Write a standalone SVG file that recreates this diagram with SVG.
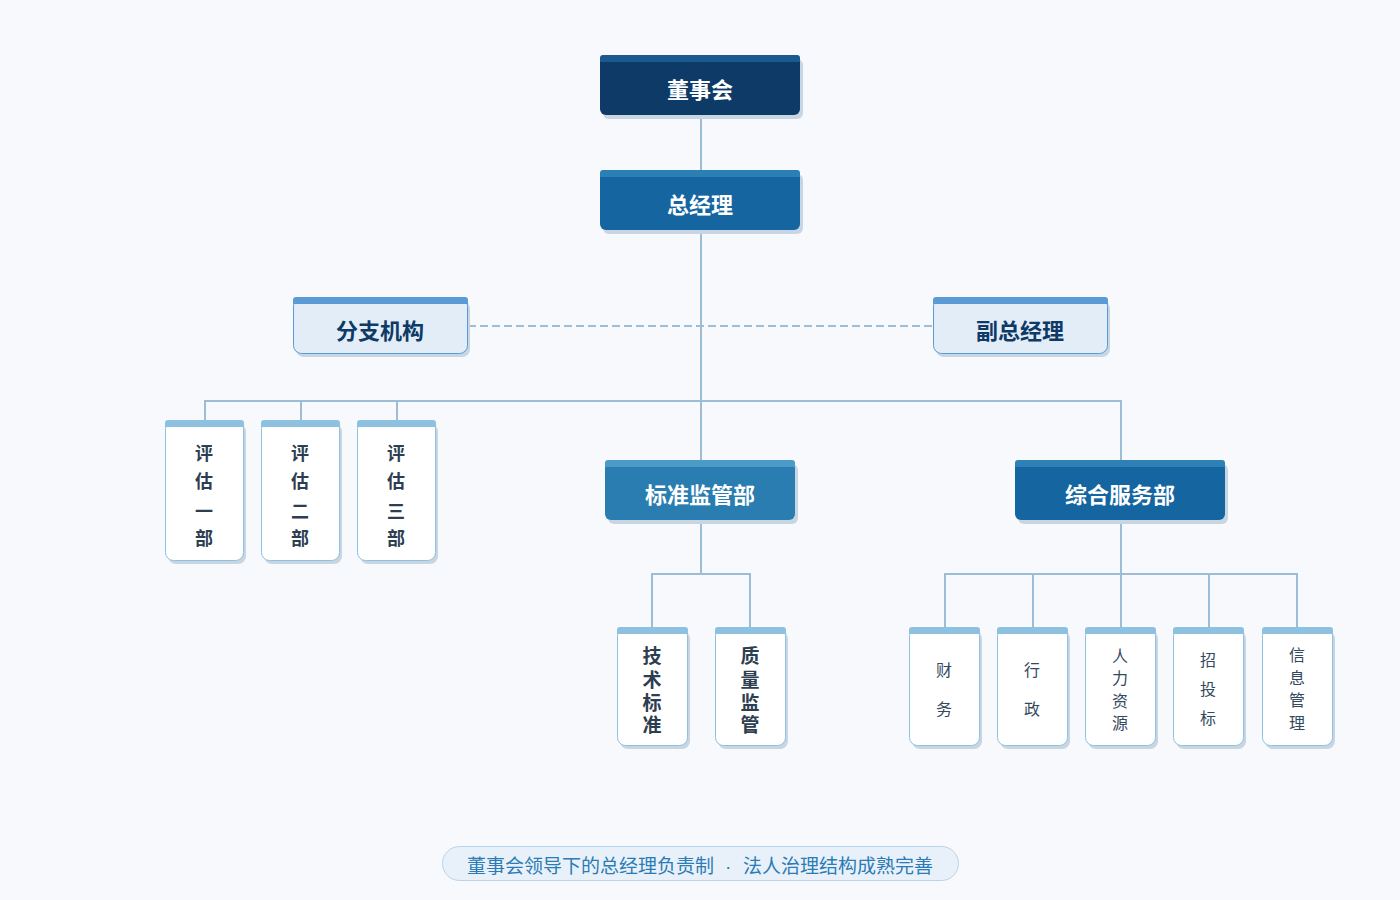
<svg xmlns="http://www.w3.org/2000/svg" width="1400" height="900" viewBox="0 0 1400 900">
<defs>
<style>
.bg{fill:#f7f9fc}
.sh{fill:#c8d5e2}
.ln{fill:none;stroke:#9dbdd6;stroke-width:2}
.dash{stroke-dasharray:8 4}
.t{font-family:"Liberation Sans","Noto Sans CJK SC",sans-serif;text-anchor:middle}
.big{font-size:22px;font-weight:bold;fill:#ffffff}
.lt{font-size:22px;font-weight:bold;fill:#0d3a66}
.sb{font-size:18px;font-weight:bold;fill:#2c3e50}
.sr{font-size:16px;fill:#34495e}
.wbody{fill:#ffffff;stroke:#8ec0e0;stroke-width:1}
.wstripe{fill:#8ec0e0}
.lbody{fill:#e3edf8;stroke:#5b9bd5;stroke-width:1}
.lstripe{fill:#5b9bd5}
.cap{font-family:"Liberation Sans","Noto Sans CJK SC",sans-serif;font-size:19px;fill:#2b7bb5}
</style>
</defs>
<rect class="bg" x="0" y="0" width="1400" height="900"/>

<g id="connectors">
<line class="ln" x1="701" y1="115" x2="701" y2="170"/>
<line class="ln" x1="701" y1="230" x2="701" y2="460"/>
<line class="ln dash" x1="468" y1="326" x2="933" y2="326"/>
<polyline class="ln" points="205,420 205,401 1121,401 1121,460"/>
<line class="ln" x1="301" y1="401" x2="301" y2="420"/>
<line class="ln" x1="397" y1="401" x2="397" y2="420"/>
<line class="ln" x1="701" y1="520" x2="701" y2="574"/>
<polyline class="ln" points="652,627 652,574 750,574 750,627"/>
<line class="ln" x1="1121" y1="520" x2="1121" y2="627"/>
<polyline class="ln" points="945,627 945,574 1297,574 1297,627"/>
<line class="ln" x1="1033" y1="574" x2="1033" y2="627"/>
<line class="ln" x1="1209" y1="574" x2="1209" y2="627"/>
</g>

<g id="n-board">
<rect class="sh" x="603" y="59" width="200" height="60" rx="6"/>
<rect x="600" y="55" width="200" height="60" rx="6" fill="#0d3a66"/>
<path d="M600,62 V58 Q600,55 603,55 H797 Q800,55 800,58 V62 Z" fill="#1a5a8e"/>
<text class="t big" x="700" y="98">董事会</text>
</g>

<g id="n-gm">
<rect class="sh" x="603" y="174" width="200" height="60" rx="6"/>
<rect x="600" y="170" width="200" height="60" rx="6" fill="#1565a0"/>
<path d="M600,177 V173 Q600,170 603,170 H797 Q800,170 800,173 V177 Z" fill="#2a7fb4"/>
<text class="t big" x="700" y="213">总经理</text>
</g>

<g id="n-branch">
<rect class="sh" x="296" y="301" width="174" height="56" rx="8"/>
<rect class="lbody" x="293.5" y="297.5" width="174" height="56" rx="8"/>
<path d="M293,304 V300 Q293,297 296,297 H465 Q468,297 468,300 V304 Z" class="lstripe"/>
<text class="t lt" x="380" y="339">分支机构</text>
</g>

<g id="n-vgm">
<rect class="sh" x="936" y="301" width="174" height="56" rx="8"/>
<rect class="lbody" x="933.5" y="297.5" width="174" height="56" rx="8"/>
<path d="M933,304 V300 Q933,297 936,297 H1105 Q1108,297 1108,300 V304 Z" class="lstripe"/>
<text class="t lt" x="1020" y="339">副总经理</text>
</g>

<g id="n-eval1">
<rect class="sh" x="168" y="424" width="78" height="140" rx="8"/>
<rect class="wbody" x="165.5" y="420.5" width="78" height="140" rx="8"/>
<path d="M165,427 V423 Q165,420 168,420 H241 Q244,420 244,423 V427 Z" class="wstripe"/>
<text class="t sb"><tspan x="204" y="460">评</tspan><tspan x="204" y="488">估</tspan><tspan x="204" y="518">一</tspan><tspan x="204" y="545">部</tspan></text>
</g>

<g id="n-eval2">
<rect class="sh" x="264" y="424" width="78" height="140" rx="8"/>
<rect class="wbody" x="261.5" y="420.5" width="78" height="140" rx="8"/>
<path d="M261,427 V423 Q261,420 264,420 H337 Q340,420 340,423 V427 Z" class="wstripe"/>
<text class="t sb"><tspan x="300" y="460">评</tspan><tspan x="300" y="488">估</tspan><tspan x="300" y="518">二</tspan><tspan x="300" y="545">部</tspan></text>
</g>

<g id="n-eval3">
<rect class="sh" x="360" y="424" width="78" height="140" rx="8"/>
<rect class="wbody" x="357.5" y="420.5" width="78" height="140" rx="8"/>
<path d="M357,427 V423 Q357,420 360,420 H433 Q436,420 436,423 V427 Z" class="wstripe"/>
<text class="t sb"><tspan x="396" y="460">评</tspan><tspan x="396" y="488">估</tspan><tspan x="396" y="518">三</tspan><tspan x="396" y="545">部</tspan></text>
</g>

<g id="n-std">
<rect class="sh" x="608" y="464" width="190" height="60" rx="6"/>
<rect x="605" y="460" width="190" height="60" rx="6" fill="#2a7db0"/>
<path d="M605,467 V463 Q605,460 608,460 H792 Q795,460 795,463 V467 Z" fill="#4a9cc6"/>
<text class="t big" x="700" y="503">标准监管部</text>
</g>

<g id="n-svc">
<rect class="sh" x="1018" y="464" width="210" height="60" rx="6"/>
<rect x="1015" y="460" width="210" height="60" rx="6" fill="#1565a0"/>
<path d="M1015,467 V463 Q1015,460 1018,460 H1222 Q1225,460 1225,463 V467 Z" fill="#2e80b5"/>
<text class="t big" x="1120" y="503">综合服务部</text>
</g>

<g id="n-tech">
<rect class="sh" x="620" y="631" width="70" height="118" rx="8"/>
<rect class="wbody" x="617.5" y="627.5" width="70" height="118" rx="8"/>
<path d="M617,634 V630 Q617,627 620,627 H685 Q688,627 688,630 V634 Z" class="wstripe"/>
<text class="t sb" style="font-size:19px"><tspan x="652" y="663">技</tspan><tspan x="652" y="687">术</tspan><tspan x="652" y="710">标</tspan><tspan x="652" y="732">准</tspan></text>
</g>

<g id="n-qual">
<rect class="sh" x="718" y="631" width="70" height="118" rx="8"/>
<rect class="wbody" x="715.5" y="627.5" width="70" height="118" rx="8"/>
<path d="M715,634 V630 Q715,627 718,627 H783 Q786,627 786,630 V634 Z" class="wstripe"/>
<text class="t sb" style="font-size:19px"><tspan x="750" y="663">质</tspan><tspan x="750" y="687">量</tspan><tspan x="750" y="710">监</tspan><tspan x="750" y="732">管</tspan></text>
</g>

<g id="n-fin">
<rect class="sh" x="912" y="631" width="70" height="118" rx="8"/>
<rect class="wbody" x="909.5" y="627.5" width="70" height="118" rx="8"/>
<path d="M909,634 V630 Q909,627 912,627 H977 Q980,627 980,630 V634 Z" class="wstripe"/>
<text class="t sr"><tspan x="944" y="676">财</tspan><tspan x="944" y="715">务</tspan></text>
</g>

<g id="n-admin">
<rect class="sh" x="1000" y="631" width="70" height="118" rx="8"/>
<rect class="wbody" x="997.5" y="627.5" width="70" height="118" rx="8"/>
<path d="M997,634 V630 Q997,627 1000,627 H1065 Q1068,627 1068,630 V634 Z" class="wstripe"/>
<text class="t sr"><tspan x="1032" y="676">行</tspan><tspan x="1032" y="715">政</tspan></text>
</g>

<g id="n-hr">
<rect class="sh" x="1088" y="631" width="70" height="118" rx="8"/>
<rect class="wbody" x="1085.5" y="627.5" width="70" height="118" rx="8"/>
<path d="M1085,634 V630 Q1085,627 1088,627 H1153 Q1156,627 1156,630 V634 Z" class="wstripe"/>
<text class="t sr"><tspan x="1120" y="662">人</tspan><tspan x="1120" y="684">力</tspan><tspan x="1120" y="707">资</tspan><tspan x="1120" y="729">源</tspan></text>
</g>

<g id="n-bid">
<rect class="sh" x="1176" y="631" width="70" height="118" rx="8"/>
<rect class="wbody" x="1173.5" y="627.5" width="70" height="118" rx="8"/>
<path d="M1173,634 V630 Q1173,627 1176,627 H1241 Q1244,627 1244,630 V634 Z" class="wstripe"/>
<text class="t sr"><tspan x="1208" y="666">招</tspan><tspan x="1208" y="695">投</tspan><tspan x="1208" y="724">标</tspan></text>
</g>

<g id="n-info">
<rect class="sh" x="1265" y="631" width="70" height="118" rx="8"/>
<rect class="wbody" x="1262.5" y="627.5" width="70" height="118" rx="8"/>
<path d="M1262,634 V630 Q1262,627 1265,627 H1330 Q1333,627 1333,630 V634 Z" class="wstripe"/>
<text class="t sr"><tspan x="1297" y="661">信</tspan><tspan x="1297" y="684">息</tspan><tspan x="1297" y="706">管</tspan><tspan x="1297" y="729">理</tspan></text>
</g>

<g id="caption">
<rect x="442.5" y="846.5" width="516" height="34" rx="17" fill="#e8f1f9" stroke="#b8d4ea" stroke-width="1"/>
<text class="cap"><tspan x="467" y="873">董事会领导下的总经理负责制</tspan><tspan x="725" y="873">·</tspan><tspan x="743" y="873">法人治理结构成熟完善</tspan></text>
</g>
</svg>
